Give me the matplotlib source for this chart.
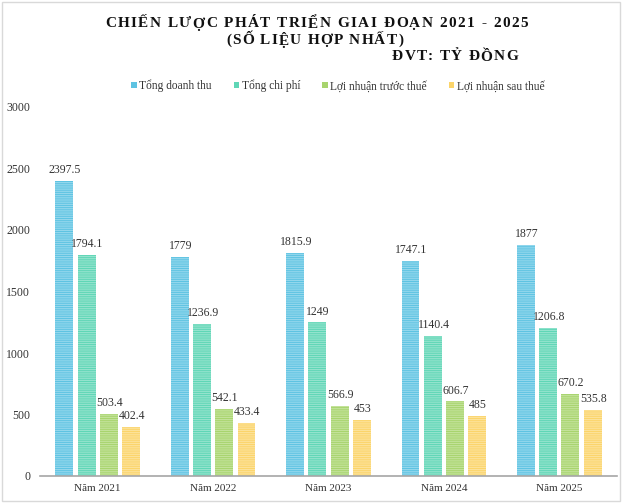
import matplotlib
matplotlib.use("Agg")
import matplotlib.pyplot as plt
import numpy as np
from matplotlib.patches import Rectangle

years = ["Năm 2021", "Năm 2022", "Năm 2023", "Năm 2024", "Năm 2025"]
series_names = ["Tổng doanh thu", "Tổng chi phí", "Lợi nhuận trước thuế", "Lợi nhuận sau thuế"]
doanh_thu = [2397.5, 1779, 1815.9, 1747.1, 1877]
chi_phi = [1794.1, 1236.9, 1249, 1140.4, 1206.8]
ln_truoc_thue = [503.4, 542.1, 566.9, 606.7, 670.2]
ln_sau_thue = [402.4, 433.4, 453, 485, 535.8]
yticks = [0, 500, 1000, 1500, 2000, 2500, 3000]

colors = ["#5ec3e2", "#5fd6b6", "#a8d46e", "#fbd46a"]
stripes = ["#9fdcef", "#9fe6d2", "#c9e6a4", "#fde5a4"]

plt.rcParams['font.family'] = ['Liberation Serif', 'DejaVu Serif']
plt.rcParams['hatch.linewidth'] = 0.6

W, H = 640, 503
fig = plt.figure(figsize=(6.4, 5.03), dpi=100)
ax = fig.add_axes([40/W, 1-476/H, 577/W, (476-107)/H])

data = [doanh_thu, chi_phi, ln_truoc_thue, ln_sau_thue]
x = np.arange(len(years))
w = 0.155
pitch = 0.193
for i, (vals, c, s, name) in enumerate(zip(data, colors, stripes, series_names)):
    pos = x + (i - 1.5) * pitch
    ax.bar(pos, vals, w, color=c, edgecolor=s, linewidth=0, hatch='-' * 9, label=name)
    for p, v in zip(pos, vals):
        ax.annotate(f"{v:g}", (p, v), xytext=(0.5, 3.5), textcoords='offset points',
                    ha='center', va='bottom', fontsize=8.5, color='#333333')

ax.set_xlim(-0.5, len(years) - 0.5)
ax.set_ylim(0, 3000)
ax.set_yticks(yticks)
ax.set_yticklabels([str(t) for t in yticks], fontsize=8.5, color='#333333')
ax.set_xticks(x)
ax.set_xticklabels(years, fontsize=8, color='#333333')
ax.tick_params(axis='both', length=0)
ax.tick_params(axis='y', pad=7)
ax.tick_params(axis='x', pad=6)
for sp in ['top', 'right', 'left']:
    ax.spines[sp].set_visible(False)
ax.spines['bottom'].set_color('#a6a6a6')
ax.spines['bottom'].set_linewidth(1.2)

renderer = fig.canvas.get_renderer()

def tracked_text(s, x0, x1, yc, size=11):
    """Draw string s spread with letter spacing between pixel x0 and x1."""
    kw = dict(va='center', ha='left', fontsize=size, fontweight='bold', color='#111111')
    arts = [fig.text(0, yc, ch, **kw) for ch in s]
    widths = [a.get_window_extent(renderer).width for a in arts]
    gap = ((x1 - x0) - sum(widths)) / (len(s) - 1)
    cx = x0
    for a, wd in zip(arts, widths):
        a.set_position((cx / W, 1 - yc / H))
        cx += wd + gap

tracked_text("CHIẾN LƯỢC PHÁT TRIỂN GIAI ĐOẠN 2021 - 2025", 105, 528, 24)
tracked_text("(SỐ LIỆU HỢP NHẤT)", 226, 403, 40)
tracked_text("ĐVT: TỶ ĐỒNG", 392, 518, 57)

leg = fig.legend(loc='center', bbox_to_anchor=(338/W, 1-86/H), ncol=4, frameon=False,
                 fontsize=8.3, handlelength=0.45, handleheight=0.45, handletextpad=0.25,
                 columnspacing=1.9, labelcolor='#333333')
for h in leg.legend_handles:
    h.set_hatch(None)
    h.set_linewidth(0)

fig.add_artist(Rectangle((2/W, 2/H), 618/W, 499/H, transform=fig.transFigure,
                         fill=False, edgecolor='#d9d9d9', linewidth=1))

fig.savefig("out.png", dpi=100)
